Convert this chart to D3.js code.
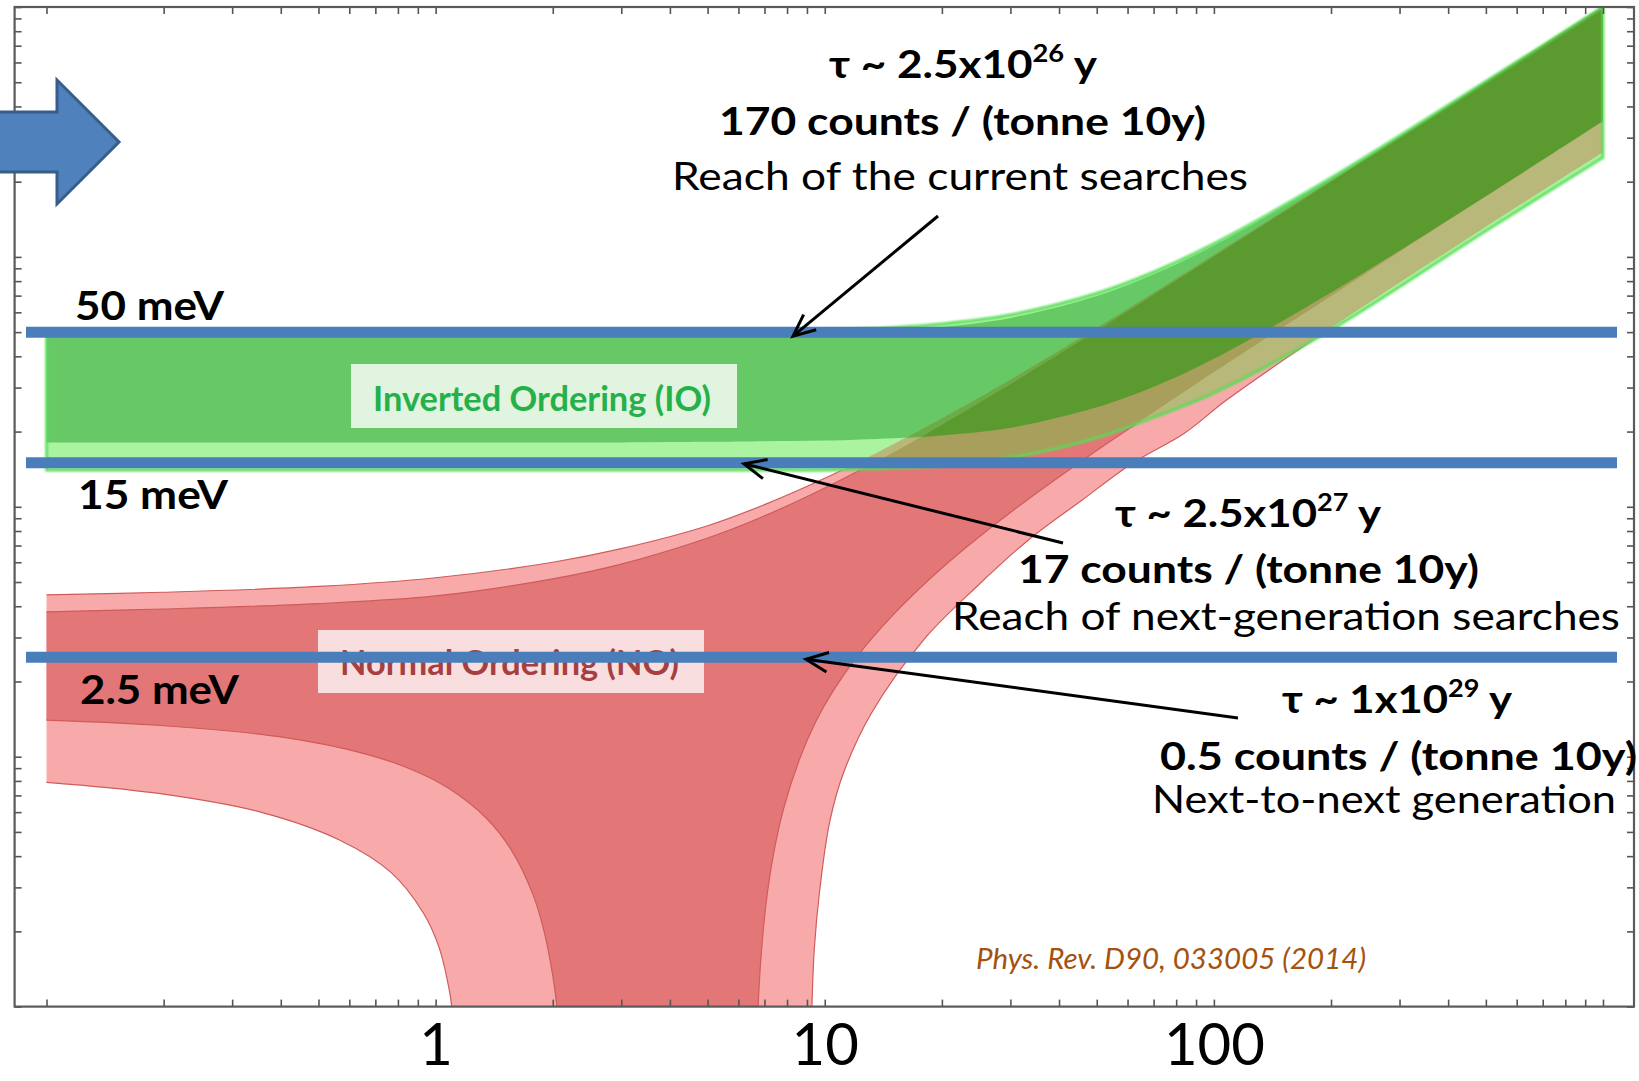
<!DOCTYPE html>
<html><head><meta charset="utf-8">
<script src="https://cdn.jsdelivr.net/npm/d3@7"></script>
<style>
html,body{margin:0;padding:0;background:#fff;}
svg{display:block;}
</style></head><body>
<svg id="chart" width="1639" height="1081"></svg>
<script>
// Lightest neutrino mass samples (meV) used by the upper/lower envelopes
const mLight = [0.1,0.2,0.5,1,2,3,5,7,10,15,20,30,50,70,100,200,500,1000];

// Normal ordering: effective Majorana mass envelopes (meV)
const noOuterUpper = [4.44,4.55,4.8,5.2,6.0,6.8,8.4,10.2,13.0,17.8,22.6,32.3,52,72,102,202,502,1002];
const noInnerUpper = [3.8,3.9,4.1,4.4,5.15,5.9,7.5,9.2,11.9,16.5,21.3,31,50.7,70.6,100.4,200,500,1000];
// lower envelopes split in two branches around the cancellation funnel: [m_lightest, m_bb]
const noOuterLowerLeft = [[0.1,0.79],[0.19,0.716],[0.355,0.6],[0.566,0.464],[0.77,0.343],[0.93,0.237],[1.02,0.173],[1.087,0.114],[1.1,0.1]];
const noOuterLowerRight = [[9.27,0.1],[9.4,0.17],[9.7,0.29],[10.3,0.55],[11.2,0.87],[13.2,1.5],[18,2.95],[24.6,4.8],[33.5,7.4],[45.7,10.6],[62,15],[84,19.7],[108,26.8],[200,52],[500,132],[1000,262]];
const noInnerLowerLeft = [[0.1,1.4],[0.2,1.33],[0.4,1.2],[0.67,1.02],[0.87,0.887],[1.08,0.747],[1.35,0.567],[1.57,0.42],[1.78,0.28],[1.9,0.2],[2.0,0.133],[2.05,0.1]];
const noInnerLowerRight = [[6.74,0.1],[6.85,0.154],[7.06,0.256],[7.39,0.41],[7.84,0.62],[8.62,0.98],[9.5,1.39],[10.5,1.83],[12,2.47],[15,3.7],[20,5.69],[30,9.49],[50,16.8],[70,23.9],[100,34.6],[200,69.8],[500,174.7],[1000,349.5]];

// Inverted ordering envelopes (meV)
const ioOuterUpper = [50,50,50,50,50,50.1,50.3,50.5,51,52.2,54,58.7,71.5,87,113,207,504,1003];
const ioInnerUpper = [48.1,48.1,48.1,48.1,48.2,48.3,48.5,48.7,49.3,50.5,52.4,57,69.7,85.2,111,206,502,1000];
const ioInnerLower = [18.1,18.1,18.1,18.1,18.1,18.1,18.2,18.3,18.4,18.8,19.3,20.7,25,30.2,39.1,72,175,349];
const ioOuterLower = [14,14,14,14,14,14,14,14,14,14.3,14.6,15.7,18.9,22.8,28.5,51,127,250];

// Axis ticks
const decades = [0.1,1,10,100];
const xTickLabels = [1,10,100];

// Experimental reach levels (meV)
const levels = [50,15,2.5];
const levelLabels = ["50 meV","15 meV","2.5 meV"];

const svg = d3.select("#chart");
const frame = {left:14.6, right:1634, top:7, bottom:1006.6};
const x = d3.scaleLog().domain([0.1,1000]).range([46.5,1603]);
const y = d3.scaleLog().domain([0.1,1000]).range([1006.6,7]);

const C = {
  noLight:"#f8aaaa", noDark:"#e37777", noEdge:"#cf5b5b",
  ioLight:"#aaf3a1", ioMid:"#66c966", olive:"#b8b87a", oliveDark:"#a89f5c",
  greenOnPink:"#6aad48", darkGreen:"#5b9a2f", glow:"#55dd55",
  blue:"#4a7ebb", blueDark:"#385d8a"
};
const FONT = "Lato, 'Open Sans', sans-serif";

const curve = d3.line().x(d=>x(d[0])).y(d=>y(d[1])).curve(d3.curveCatmullRom.alpha(0.5));
const zip = (xs,ys)=>xs.map((v,i)=>[v,ys[i]]);
function joinSegs(segs){
  return segs.map((s,i)=>{const d=curve(s); return i ? "L"+d.slice(1) : d;}).join("")+"Z";
}
const rev = a=>a.slice().reverse();

const pNOouter = joinSegs([zip(mLight,noOuterUpper), rev(noOuterLowerRight), rev(noOuterLowerLeft)]);
const pNOinner = joinSegs([zip(mLight,noInnerUpper), rev(noInnerLowerRight), rev(noInnerLowerLeft)]);
const pIOouter = joinSegs([zip(mLight,ioOuterUpper), rev(zip(mLight,ioOuterLower))]);
const pIOinner = joinSegs([zip(mLight,ioInnerUpper), rev(zip(mLight,ioInnerLower))]);

const defs = svg.append("defs");
defs.append("clipPath").attr("id","clipFrame").append("rect")
  .attr("x",frame.left).attr("y",frame.top).attr("width",frame.right-frame.left).attr("height",frame.bottom-frame.top);
defs.append("clipPath").attr("id","clipNOo").append("path").attr("d",pNOouter);
defs.append("clipPath").attr("id","clipNOi").append("path").attr("d",pNOinner);
defs.append("filter").attr("id","soft").attr("x","-5%").attr("y","-5%").attr("width","110%").attr("height","110%")
  .append("feGaussianBlur").attr("stdDeviation",1.3);

const bands = svg.append("g").attr("clip-path","url(#clipFrame)");
bands.append("path").attr("d",pNOouter).attr("fill",C.noLight);
bands.append("path").attr("d",pNOinner).attr("fill",C.noDark);
[zip(mLight,noOuterUpper), zip(mLight,noInnerUpper), noOuterLowerLeft, noOuterLowerRight, noInnerLowerLeft, noInnerLowerRight]
  .forEach(s=>bands.append("path").attr("d",curve(s)).attr("fill","none").attr("stroke",C.noEdge).attr("stroke-width",1.2));

bands.append("path").attr("d",pIOouter).attr("fill",C.ioLight);
bands.append("path").attr("d",pIOinner).attr("fill",C.ioMid);
bands.append("g").attr("clip-path","url(#clipNOo)").append("path").attr("d",pIOouter).attr("fill",C.olive);
bands.append("g").attr("clip-path","url(#clipNOo)").append("path").attr("d",pIOinner).attr("fill",C.greenOnPink);
bands.append("g").attr("clip-path","url(#clipNOi)").append("path").attr("d",pIOouter).attr("fill",C.oliveDark);
bands.append("g").attr("clip-path","url(#clipNOi)").append("path").attr("d",pIOinner).attr("fill",C.darkGreen);
bands.append("path").attr("d",pIOouter).attr("fill","none").attr("stroke",C.glow).attr("stroke-width",2.5).attr("filter","url(#soft)");

// Frame and inward ticks on all four sides
const xTicks = []; decades.forEach(d=>{for(let k=1;k<10;k++) xTicks.push(d*k);}); xTicks.push(1000);
function styleAxis(g){ g.select(".domain").remove(); g.selectAll("line").attr("stroke","#555").attr("stroke-width",1.6); }
svg.append("g").attr("transform",`translate(0,${frame.bottom})`).call(d3.axisBottom(x).tickValues(xTicks).tickSize(-7).tickFormat("")).call(styleAxis);
svg.append("g").attr("transform",`translate(0,${frame.top})`).call(d3.axisTop(x).tickValues(xTicks).tickSize(-7).tickFormat("")).call(styleAxis);
svg.append("g").attr("transform",`translate(${frame.left},0)`).call(d3.axisLeft(y).tickValues(xTicks).tickSize(-7).tickFormat("")).call(styleAxis);
svg.append("g").attr("transform",`translate(${frame.right},0)`).call(d3.axisRight(y).tickValues(xTicks).tickSize(-7).tickFormat("")).call(styleAxis);
svg.append("rect").attr("x",frame.left).attr("y",frame.top).attr("width",frame.right-frame.left).attr("height",frame.bottom-frame.top)
  .attr("fill","none").attr("stroke","#5a5a5a").attr("stroke-width",2.2);

const xl = svg.append("g").attr("transform",`translate(0,${frame.bottom})`)
  .call(d3.axisBottom(x).tickValues(xTickLabels).tickSize(0).tickPadding(17).tickFormat(d3.format("d")));
xl.select(".domain").remove();
xl.selectAll("text").attr("font-family",FONT).attr("font-size",58).attr("fill","#000");

// Text helper: parts are [string, isSuperscript]
function label(parts, o){
  const t = svg.append("text").attr("x",o.x0).attr("y",o.base)
    .attr("font-family",FONT).attr("font-size",o.size).attr("font-weight",o.weight||"normal")
    .attr("font-style",o.style||"normal").attr("fill",o.color||"#000");
  let prevSup = false;
  parts.forEach(([s,sup])=>{
    const ts = t.append("tspan").text(s);
    if(sup){ ts.attr("font-size",o.size*0.62).attr("dy",-o.size*0.4); }
    else if(prevSup){ ts.attr("dy",o.size*0.4); }
    prevSup = !!sup;
  });
  if(o.x1) t.attr("textLength",o.x1-o.x0).attr("lengthAdjust","spacingAndGlyphs");
  return t;
}

// Ordering labels on translucent boxes
svg.append("rect").attr("x",351).attr("y",364).attr("width",386).attr("height",64).attr("fill","rgba(255,255,255,0.8)");
label([["Inverted Ordering (IO)"]],{x0:373,x1:711,base:411,size:34,weight:"bold",color:"#25b04a"});
svg.append("rect").attr("x",318).attr("y",630).attr("width",386).attr("height",63).attr("fill","rgba(255,255,255,0.76)");
label([["Normal Ordering (NO)"]],{x0:340,x1:679,base:675,size:34,weight:"bold",color:"#a64040"});

// Reach levels
const lvlLabelPos = [{x0:75,x1:224,dy:-12},{x0:78,x1:228,dy:46},{x0:80,x1:239,dy:47}];
levels.forEach((v,i)=>{
  svg.append("line").attr("x1",26).attr("x2",1617).attr("y1",y(v)).attr("y2",y(v))
    .attr("stroke",C.blue).attr("stroke-width",11);
  label([[levelLabels[i]]],{x0:lvlLabelPos[i].x0,x1:lvlLabelPos[i].x1,base:y(v)+lvlLabelPos[i].dy,size:40,weight:"bold"});
});

// Annotations
label([["τ ~ 2.5x10"],["26",true],[" y"]],{x0:829,x1:1097,base:78,size:39,weight:"bold"});
label([["170 counts / (tonne 10y)"]],{x0:719,x1:1206,base:135,size:39,weight:"bold"});
label([["Reach of the current searches"]],{x0:672,x1:1248,base:190,size:39});
label([["τ ~ 2.5x10"],["27",true],[" y"]],{x0:1115,x1:1381,base:527,size:39,weight:"bold"});
label([["17 counts / (tonne 10y)"]],{x0:1018,x1:1479,base:583,size:39,weight:"bold"});
label([["Reach of next-generation searches"]],{x0:952,x1:1620,base:630,size:39});
label([["τ ~ 1x10"],["29",true],[" y"]],{x0:1282,x1:1512,base:713,size:39,weight:"bold"});
label([["0.5 counts / (tonne 10y)"]],{x0:1160,x1:1637,base:770,size:39,weight:"bold"});
label([["Next-to-next generation"]],{x0:1152,x1:1616,base:813,size:39});
label([["Phys. Rev. D90, 033005 (2014)"]],{x0:976,x1:1366,base:969,size:29,style:"italic",color:"#a5520f"});

// Pointer arrows from the annotations to the reach levels
function arrow(x0,y0,x1,y1){
  const a = Math.atan2(y0-y1,x0-x1), L = 24, s = 0.42;
  svg.append("line").attr("x1",x0).attr("y1",y0).attr("x2",x1).attr("y2",y1).attr("stroke","#000").attr("stroke-width",3);
  svg.append("path").attr("d",`M${x1+L*Math.cos(a+s)},${y1+L*Math.sin(a+s)}L${x1},${y1}L${x1+L*Math.cos(a-s)},${y1+L*Math.sin(a-s)}`)
    .attr("fill","none").attr("stroke","#000").attr("stroke-width",3);
}
arrow(938,216,793,y(levels[0])+4);
arrow(1063,543,744,y(levels[1])+1);
arrow(1238,718,806,y(levels[2])+2);

// Block arrow on the left edge
svg.append("path").attr("d","M-5,112L57,112L57,80L119,142L57,204L57,172L-5,172Z")
  .attr("fill","#4f81bd").attr("stroke",C.blueDark).attr("stroke-width",3).attr("stroke-linejoin","miter");
</script>
</body></html>
